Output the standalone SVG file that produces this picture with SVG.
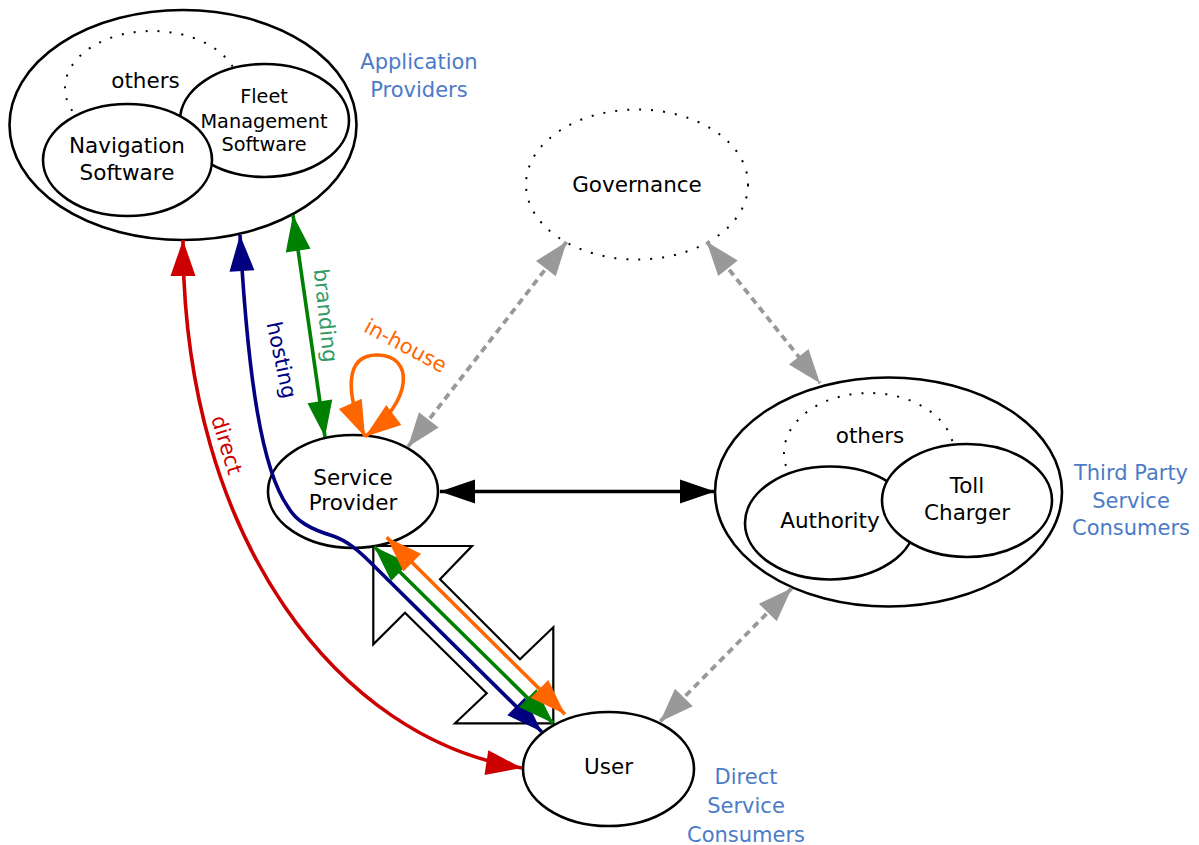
<svg xmlns="http://www.w3.org/2000/svg" width="1199" height="845" viewBox="0 0 1199 845">
  <style>
    .node { fill: #ffffff; stroke: #000000; stroke-width: 2.6; }
    .dots { fill: none; stroke: #000000; stroke-width: 2; stroke-dasharray: 2 10; }
    .lbl { font-family: "DejaVu Sans", "Liberation Sans", sans-serif; font-size: 21.5px; fill: #000000; text-anchor: middle; }
    .small { font-size: 19.3px; }
    .group { font-family: "DejaVu Sans", "Liberation Sans", sans-serif; font-size: 21px; fill: #4b7bc6; text-anchor: middle; }
    .edge { font-family: "DejaVu Sans", "Liberation Sans", sans-serif; font-size: 21px; text-anchor: middle; }
    .ln { fill: none; stroke-width: 3.6; }
    .gray { fill: none; stroke: #999999; stroke-width: 3.8; stroke-dasharray: 7 5; }
  </style>
  <defs>
    <marker id="hBlack" markerUnits="userSpaceOnUse" markerWidth="35" markerHeight="24" refX="35" refY="12" orient="auto-start-reverse" overflow="visible">
      <path d="M0,0 L35,12 L0,24 Z" fill="#000000"/>
    </marker>
    <marker id="hGray" markerUnits="userSpaceOnUse" markerWidth="34" markerHeight="25" refX="34" refY="12.5" orient="auto-start-reverse" overflow="visible">
      <path d="M0,0 L34,12.5 L0,25 Z" fill="#999999"/>
    </marker>
    <marker id="hRed" markerUnits="userSpaceOnUse" markerWidth="36" markerHeight="25" refX="36" refY="12.5" orient="auto-start-reverse" overflow="visible">
      <path d="M0,0 L36,12.5 L0,25 Z" fill="#cc0000"/>
    </marker>
    <marker id="hNavy" markerUnits="userSpaceOnUse" markerWidth="36" markerHeight="25" refX="36" refY="12.5" orient="auto-start-reverse" overflow="visible">
      <path d="M0,0 L36,12.5 L0,25 Z" fill="#000080"/>
    </marker>
    <marker id="hGreen" markerUnits="userSpaceOnUse" markerWidth="36" markerHeight="25" refX="36" refY="12.5" orient="auto-start-reverse" overflow="visible">
      <path d="M0,0 L36,12.5 L0,25 Z" fill="#008000"/>
    </marker>
    <marker id="hOrange" markerUnits="userSpaceOnUse" markerWidth="36" markerHeight="25" refX="36" refY="12.5" orient="auto-start-reverse" overflow="visible">
      <path d="M0,0 L36,12.5 L0,25 Z" fill="#ff6600"/>
    </marker>
  </defs>

  <rect width="1199" height="845" fill="#ffffff"/>

  <!-- Application providers cluster -->
  <g id="application-providers">
    <ellipse class="node" cx="183" cy="125" rx="173.5" ry="115"/>
    <ellipse class="dots" cx="152" cy="88" rx="87" ry="57"/>
    <text class="lbl" x="145.5" y="88">others</text>
    <g id="fleet-management">
      <ellipse class="node" cx="264.5" cy="120.5" rx="84.5" ry="56.5"/>
      <text class="lbl small" x="264" y="103">Fleet</text>
      <text class="lbl small" x="264" y="128">Management</text>
      <text class="lbl small" x="264" y="151">Software</text>
    </g>
    <g id="navigation">
      <ellipse class="node" cx="127.5" cy="160" rx="84.5" ry="56"/>
      <text class="lbl" x="127" y="153">Navigation</text>
      <text class="lbl" x="127" y="180">Software</text>
    </g>
    <text class="group" x="419" y="68.5">Application</text>
    <text class="group" x="419" y="97">Providers</text>
  </g>

  <!-- Governance -->
  <g id="governance">
    <ellipse class="dots" cx="637" cy="184.5" rx="111" ry="75"/>
    <text class="lbl" x="637" y="192">Governance</text>
  </g>

  <!-- Service provider -->
  <g id="service-provider">
    <ellipse class="node" cx="353" cy="491.5" rx="85" ry="56.5"/>
    <text class="lbl" x="353" y="485">Service</text>
    <text class="lbl" x="353" y="510">Provider</text>
  </g>

  <!-- Third party service consumers cluster -->
  <g id="third-party">
    <ellipse class="node" cx="888.5" cy="492" rx="173.5" ry="114.5"/>
    <ellipse class="dots" cx="869" cy="453" rx="85" ry="60"/>
    <text class="lbl" x="870" y="443">others</text>
    <g id="authority">
      <ellipse class="node" cx="830" cy="523" rx="85" ry="56.5"/>
      <text class="lbl" x="830" y="528">Authority</text>
    </g>
    <g id="toll-charger">
      <ellipse class="node" cx="967" cy="500.5" rx="85" ry="56.5"/>
      <text class="lbl" x="967" y="493">Toll</text>
      <text class="lbl" x="967" y="520">Charger</text>
    </g>
    <text class="group" x="1131" y="480">Third Party</text>
    <text class="group" x="1131" y="508">Service</text>
    <text class="group" x="1131" y="535">Consumers</text>
  </g>

  <!-- User -->
  <g id="user">
    <ellipse class="node" cx="608.5" cy="769" rx="85.5" ry="57"/>
    <text class="lbl" x="608.5" y="774">User</text>
    <text class="group" x="746" y="784">Direct</text>
    <text class="group" x="746" y="813">Service</text>
    <text class="group" x="746" y="842">Consumers</text>
  </g>

  <!-- Connectors -->
  <g id="connectors">
    <!-- broad two-way arrow between service provider and user -->
    <polygon points="373.3,546 472,546 440,579.3 520,659.3 553.3,627.3 553.3,723.3 455,723.3 486.7,693.3 405,612.7 373.3,644.3" fill="#ffffff" stroke="#000000" stroke-width="2.2"/>

    <!-- dashed governance / peer links -->
    <path class="gray" d="M408,446.7 L566.7,241.7" marker-start="url(#hGray)" marker-end="url(#hGray)"/>
    <path class="gray" d="M706.7,241.7 L820,383.3" marker-start="url(#hGray)" marker-end="url(#hGray)"/>
    <path class="gray" d="M791.7,588.3 L660,721.7" marker-start="url(#hGray)" marker-end="url(#hGray)"/>

    <!-- service provider to third party -->
    <path class="ln" stroke="#000000" d="M440,491.5 L715,491.5" marker-start="url(#hBlack)" marker-end="url(#hBlack)"/>

    <!-- direct -->
    <path class="ln" stroke="#cc0000" d="M183,240 C183,540 340,740 522,768" marker-start="url(#hRed)" marker-end="url(#hRed)"/>
    <text class="edge" fill="#cc0000" transform="translate(226.5,445) rotate(73)" y="7">direct</text>

    <!-- hosting -->
    <path class="ln" stroke="#000080" d="M240,235 C248,380 262,470 288,507 C296,521 310,529 333,536 C348,541 360,552 372,564 L541.7,731.7" marker-start="url(#hNavy)" marker-end="url(#hNavy)"/>
    <text class="edge" fill="#000080" transform="translate(281.5,360) rotate(78)" y="7">hosting</text>

    <!-- branding -->
    <path class="ln" stroke="#008000" d="M293,215 L325,437" marker-start="url(#hGreen)" marker-end="url(#hGreen)"/>
    <text class="edge" fill="#339966" transform="translate(325.5,315.5) rotate(84)" y="7">branding</text>
    <path class="ln" stroke="#008000" d="M374.3,546.7 L553.3,723.3" marker-start="url(#hGreen)" marker-end="url(#hGreen)"/>

    <!-- in-house -->
    <path class="ln" stroke="#ff6600" d="M365,436.7 C345,392 345,355 377,355 C414,355 414,400 365,436.7" marker-start="url(#hOrange)" marker-end="url(#hOrange)"/>
    <text class="edge" fill="#ff6600" transform="translate(405.5,346) rotate(28)" y="7">in-house</text>
    <path class="ln" stroke="#ff6600" d="M386.7,537.3 L565,714.3" marker-start="url(#hOrange)" marker-end="url(#hOrange)"/>
  </g>
</svg>
